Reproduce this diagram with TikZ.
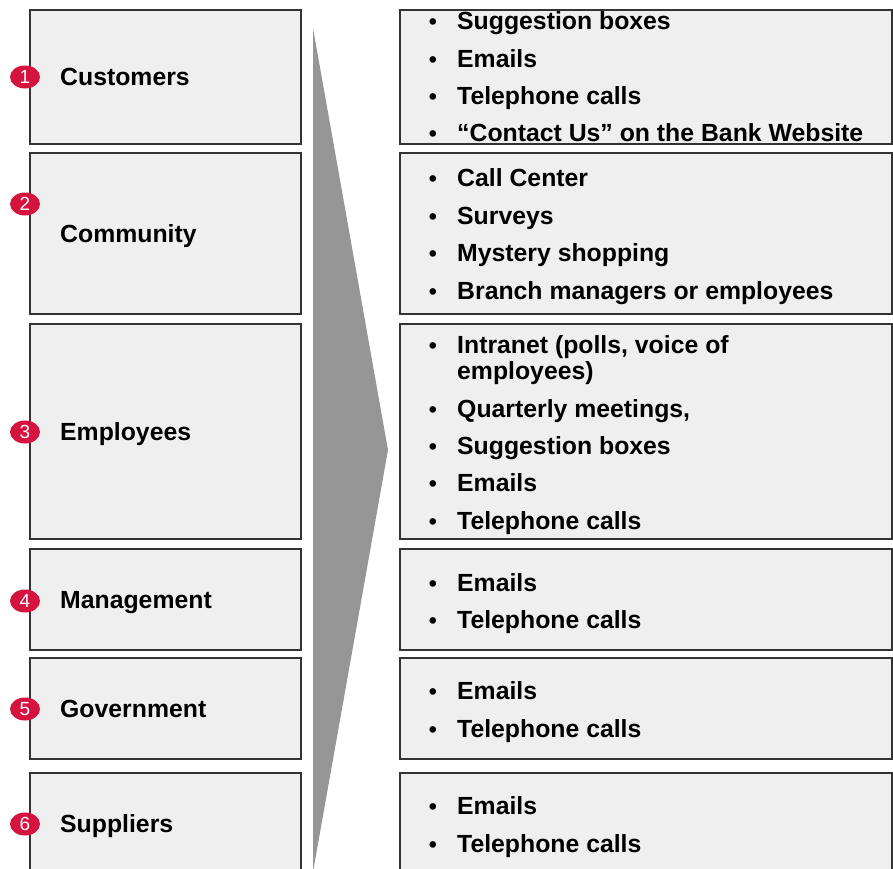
\documentclass[tikz,border=0pt]{standalone}
\usepackage{fontspec}
\setmainfont{Liberation Sans}
\usetikzlibrary{shapes.geometric}

\definecolor{panelfill}{HTML}{EFEFEF}
\definecolor{panelline}{HTML}{333333}
\definecolor{badgered}{HTML}{D5133F}
\definecolor{chevrongray}{HTML}{969696}

\tikzset{
  panel/.style={draw=panelline, line width=1.3pt, fill=panelfill},
  group/.style={anchor=base west, inner sep=0pt, font=\bfseries\fontsize{24.8}{28}\selectfont},
  item/.style={anchor=base west, inner sep=0pt, font=\bfseries\fontsize{24.8}{28}\selectfont},
  dot/.style={anchor=base, inner sep=0pt, font=\bfseries\fontsize{23}{24}\selectfont},
  badge/.style={ellipse, fill=badgered, text=white, inner sep=0pt,
    minimum width=30pt, minimum height=23pt, font=\fontsize{19}{20}\selectfont}
}

\begin{document}
\begin{tikzpicture}[x=1pt,y=-1pt]
		\useasboundingbox (0,0) rectangle (893,868);
		
		%% chevron between the two columns
		\fill[chevrongray] (313,28) -- (388,450) -- (313,872) -- cycle;
		
		%% left and right panels, top/bottom edges
		\foreach \t/\b in {10/144, 153/314, 324/539, 549/650, 658/759, 773/885}{
			\draw[panel] (30,\t) rectangle (301,\b);
			\draw[panel] (400,\t) rectangle (892,\b);
		}
		
		%% stakeholder groups with their numbers
		\foreach \n/\y/\by/\name in {1/85/77/Customers, 2/242/204/Community,
			3/440/432/Employees, 4/608/601/Management, 5/717/709/Government,
			6/832/824/Suppliers}{
			\node[group] (grp\n) at (60,\y) {\name};
			\node[badge] (num\n) at (25,\by) {\n};
		}
		
		%% channels
		\foreach \y/\txt [count=\k] in {
			29/Suggestion boxes, 67/Emails, 104/Telephone calls,
			141/{“Contact Us” on the Bank Website},
			186/Call Center, 224/Surveys, 261/Mystery shopping,
			299/Branch managers or employees,
			353/{Intranet (polls, voice of}, 417/{Quarterly meetings,},
			454/Suggestion boxes, 491/Emails, 529/Telephone calls,
			591/Emails, 628/Telephone calls,
			699/Emails, 737/Telephone calls,
			814/Emails, 852/Telephone calls}{
			\node[dot] (dot\k) at (433,\y) {•};
			\node[item] (item\k) at (457,\y) {\txt};
		}
		\node[item] (item9b) at (457,379) {employees)};
	\end{tikzpicture}
\end{document}
